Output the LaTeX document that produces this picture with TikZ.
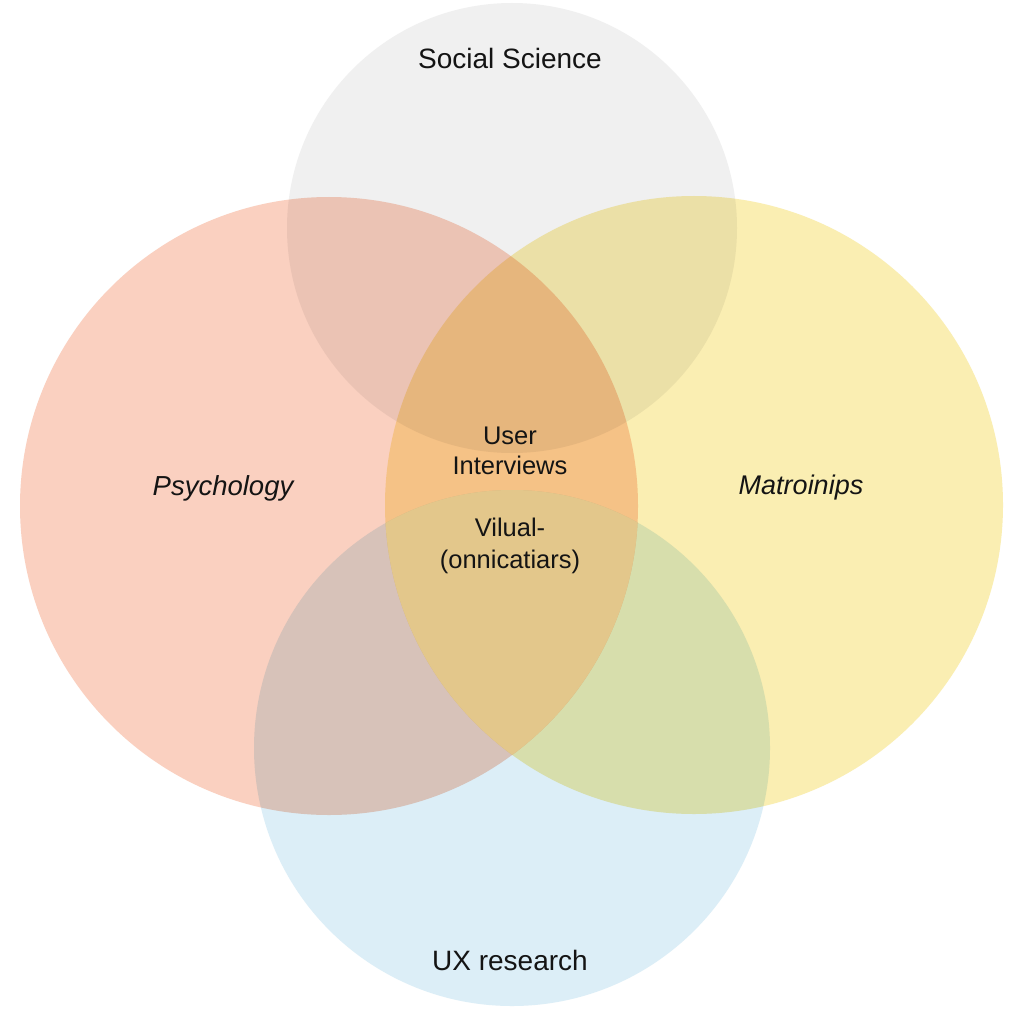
\documentclass[tikz,border=0pt]{standalone}
\usepackage{fontspec}
\setmainfont{Liberation Sans}
\definecolor{socgray}{RGB}{240,240,240}
\definecolor{psysalmon}{RGB}{250,208,192}
\definecolor{matyellow}{RGB}{250,238,178}
\definecolor{uxblue}{RGB}{220,238,247}
\definecolor{coremix}{RGB}{227,199,139}
\definecolor{ink}{RGB}{20,20,20}
\begin{document}
\begin{tikzpicture}[x=1pt,y=-1pt,
    set/.style={blend mode=multiply},
    lbl/.style={text=ink,inner sep=0pt,align=center,font=\fontsize{28}{34}\selectfont},
    small/.style={lbl,font=\fontsize{25.5}{30}\selectfont}]
    \fill [white] (0,0) rectangle (1024,1024) ;
    \useasboundingbox (0,0) rectangle (1024,1024) ;
    % the four sets
    \fill [set,fill=socgray] (512,228) circle (225) ;
    \fill [set,fill=psysalmon] (329,506) circle (309) ;
    \fill [set,fill=matyellow] (694,505) circle (309) ;
    \fill [set,fill=uxblue] (512,748) circle (258) ;
    % lighter core where three sets meet
    \begin{scope}
      \clip (329,506) circle (309) ;
      \clip (694,505) circle (309) ;
      \fill [coremix] (512,748) circle (258) ;
    \end{scope}
    % labels
    \node [lbl] (soc) at (510,58) {Social Science} ;
    \node [lbl,font=\fontsize{27.5}{34}\selectfont\itshape] (psy) at (223,488) {Psychology} ;
    \node [lbl,font=\fontsize{27}{34}\selectfont\itshape] (mat) at (801,488) {Matroinips} ;
    \node [lbl] (ux) at (510,960) {UX research} ;
    \node [small] (usr) at (510,451) {User\\Interviews} ;
    \node [small,font=\fontsize{25.5}{32}\selectfont] (vis) at (510,546) {Vilual-\\(onnicatiars)} ;
\end{tikzpicture}
\end{document}
